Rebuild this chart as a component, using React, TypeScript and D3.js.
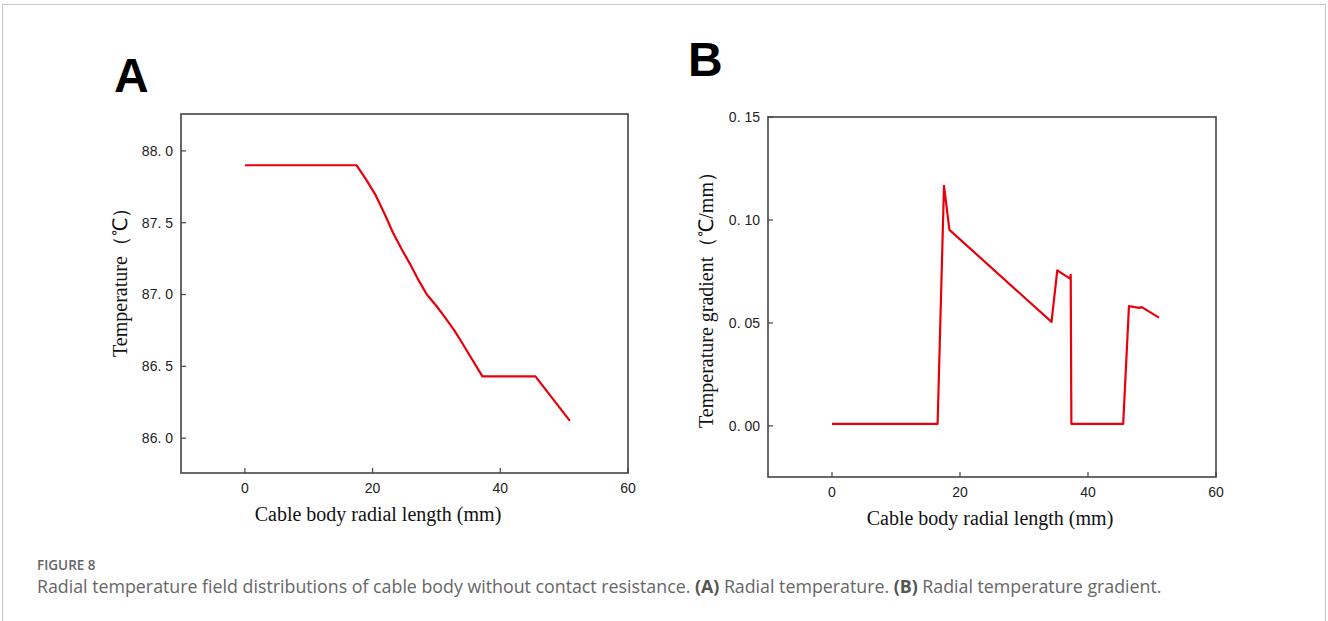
import React from "react";
import * as d3 from "d3";

const W = 1328;
const H = 621;

// Panel A: radial temperature
const aRadius = [0, 17.5, 19.0, 20.5, 22.0, 23.2, 24.5, 25.9, 27.2, 28.5, 30.0, 31.2, 32.8, 34.2, 37.2, 45.5, 50.9];
const aTemp = [87.9, 87.9, 87.8, 87.69, 87.55, 87.43, 87.32, 87.21, 87.1, 87.0, 86.92, 86.85, 86.75, 86.65, 86.43, 86.43, 86.12];
const aYTicks = [86.0, 86.5, 87.0, 87.5, 88.0];

// Panel B: radial temperature gradient
const bRadius = [0, 16.5, 17.5, 18.35, 34.3, 35.2, 37.2, 37.3, 37.4, 45.5, 46.4, 48.0, 48.4, 51.1];
const bGrad = [0.001, 0.001, 0.1166, 0.0952, 0.0505, 0.0755, 0.0715, 0.0734, 0.001, 0.001, 0.0582, 0.0573, 0.0577, 0.0526];
const bYTicks = [0.0, 0.05, 0.1, 0.15];

const xTicks = [0, 20, 40, 60];

const xTitle = "Cable body radial length (mm)";
const aYTitle = "Temperature（℃）";
const bYTitle = "Temperature gradient（℃/mm）";

type PanelProps = {
  left: number; right: number; top: number; bottom: number;
  xs: number[]; ys: number[];
  yDomain: [number, number];
  yTicks: number[];
  yFmt: (v: number) => string;
  yTitle: string;
  yTitleX: number;
  yTitleStart: number;
  xTitleX: number;
  label: string; labelX: number; labelY: number;
};

function Panel(p: PanelProps) {
  const x = d3.scaleLinear().domain([-10, 60]).range([p.left, p.right]);
  const y = d3.scaleLinear().domain(p.yDomain).range([p.bottom, p.top]);
  const line = d3.line<number>().x((_, i) => x(p.xs[i])).y((d) => y(d));
  const axisColor = "#444";
  const tickFont = "'Liberation Sans', Arial, sans-serif";
  const serif = "'Liberation Serif', 'Times New Roman', serif";
  return (
    <g>
      <text x={p.labelX} y={p.labelY} fontFamily={tickFont} fontWeight="bold" fontSize={48} fill="#000">{p.label}</text>
      <rect x={p.left} y={p.top} width={p.right - p.left} height={p.bottom - p.top} fill="none" stroke={axisColor} strokeWidth={1.6} />
      {p.yTicks.map((t) => (
        <g key={"y" + t}>
          <line x1={p.left} x2={p.left + 5} y1={y(t)} y2={y(t)} stroke={axisColor} strokeWidth={1.2} />
          <text x={p.left - 8} y={y(t)} dy="0.35em" textAnchor="end" fontFamily={tickFont} fontSize={14} fill="#222">{p.yFmt(t)}</text>
        </g>
      ))}
      {xTicks.map((t) => (
        <g key={"x" + t}>
          <line x1={x(t)} x2={x(t)} y1={p.bottom} y2={p.bottom - 5} stroke={axisColor} strokeWidth={1.2} />
          <text x={x(t)} y={p.bottom + 20} textAnchor="middle" fontFamily={tickFont} fontSize={14} fill="#222">{String(t)}</text>
        </g>
      ))}
      <path d={line(p.ys) || ""} fill="none" stroke="#e8000b" strokeWidth={2.2} strokeLinejoin="round" />
      <text x={p.xTitleX} y={p.bottom + 48} textAnchor="middle" fontFamily={serif} fontSize={20} fill="#111">{xTitle}</text>
      <text transform={`translate(${p.yTitleX},${p.yTitleStart}) rotate(-90)`} textAnchor="start" fontFamily={serif} fontSize={20} fill="#111">{p.yTitle}</text>
    </g>
  );
}

export default function App() {
  const fmtA = (v: number) => d3.format(".1f")(v).replace(".", ". ");
  const fmtB = (v: number) => d3.format(".2f")(v).replace(".", ". ");
  const capFont = "'Open Sans', 'Noto Sans', sans-serif";
  return (
    <svg width={W} height={H} style={{ position: "absolute", left: 0, top: 0 }} xmlns="http://www.w3.org/2000/svg">
      <rect x={0} y={0} width={W} height={H} fill="#fff" />
      <rect x={2.5} y={4.5} width={1323} height={H + 20} fill="none" stroke="#c8c8c8" strokeWidth={1} />
      <Panel left={181} right={628} top={114} bottom={473} xs={aRadius} ys={aTemp}
        yDomain={[85.757, 88.257]} yTicks={aYTicks} yFmt={fmtA} yTitle={aYTitle} yTitleX={127} yTitleStart={357}
        xTitleX={378}
        label="A" labelX={114} labelY={92} />
      <Panel left={768} right={1216} top={117} bottom={477} xs={bRadius} ys={bGrad}
        yDomain={[-0.0248, 0.15]} yTicks={bYTicks} yFmt={fmtB} yTitle={bYTitle} yTitleX={713} yTitleStart={428}
        xTitleX={990}
        label="B" labelX={688} labelY={76} />
      <text x={37} y={570} fontFamily={capFont} fontSize={13.5} fontWeight={600} fill="#666">FIGURE 8</text>
      <text x={37} y={593} fontFamily={capFont} fontSize={17.8} fill="#666">
        Radial temperature field distributions of cable body without contact resistance. <tspan fontWeight="bold" fill="#555">(A)</tspan> Radial temperature. <tspan fontWeight="bold" fill="#555">(B)</tspan> Radial temperature gradient.
      </text>
    </svg>
  );
}
